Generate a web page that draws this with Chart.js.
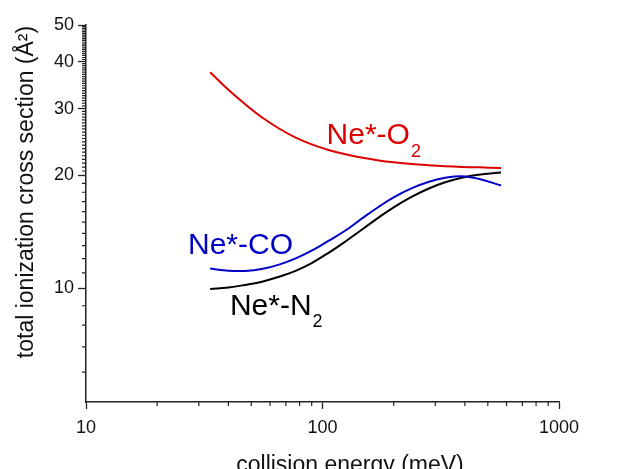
<!DOCTYPE html>
<html>
<head>
<meta charset="utf-8">
<script src="https://cdn.jsdelivr.net/npm/chart.js@4.4.1/dist/chart.umd.min.js"></script>
<style>
  html, body { margin: 0; padding: 0; background: #fff; }
  canvas { display: block; }
</style>
</head>
<body>
<canvas id="chart" width="629" height="469"></canvas>
<script>
// collision energy (meV)
const energies = [33.5, 40, 47, 56, 66, 77, 90, 106, 125, 148, 173, 200, 239, 280, 330, 388, 456, 569];
// total ionization cross section (A^2)
const neO2 = [37.48, 33.66, 30.85, 28.33, 26.49, 25.13, 24.12, 23.31, 22.70, 22.22, 21.87, 21.62, 21.38, 21.23, 21.11, 21.02, 20.96, 20.89];
const neCO = [11.30, 11.15, 11.13, 11.28, 11.59, 12.02, 12.60, 13.38, 14.25, 15.39, 16.48, 17.46, 18.46, 19.17, 19.66, 19.86, 19.55, 18.76];
const neN2 = [9.97, 10.06, 10.22, 10.44, 10.76, 11.14, 11.68, 12.43, 13.33, 14.38, 15.44, 16.42, 17.52, 18.39, 19.13, 19.68, 20.04, 20.32];

const xMajor = [10, 100, 1000];
const yMajor = [10, 20, 30, 40, 50];

const FONT = '"Liberation Sans", Arial, Helvetica, sans-serif';
const AXIS = '#222';

// minor tick marks, same as the original axis
const xMinor = [];
[10, 100].forEach(d => { for (let k = 2; k <= 9; k++) xMinor.push(k * d); });
const yMinor = [6, 7, 8, 9];
for (let v = 11; v <= 19; v++) yMinor.push(v);
for (let v = 20.5; v < 50; v += 0.5) if (v % 10 !== 0) yMinor.push(v);

// curve labels, anchored in data space (left edge / baseline)
const curveLabels = [
  { text: 'Ne*-O', sub: '2', x: 104, y: 24.17, color: '#dd0000' },
  { text: 'Ne*-CO', sub: '', x: 27.0, y: 12.36, color: '#0000c8' },
  { text: 'Ne*-N', sub: '2', x: 40.6, y: 8.53, color: '#000' },
];

const toPoints = (vals) => vals.map((v, i) => ({ x: energies[i], y: v }));

const decor = {
  id: 'decor',
  afterDraw(chart) {
    const { ctx, scales: { x, y } } = chart;
    ctx.save();

    // minor ticks
    ctx.strokeStyle = AXIS;
    ctx.lineWidth = 1.2;
    ctx.beginPath();
    xMinor.forEach(v => {
      const px = x.getPixelForValue(v);
      ctx.moveTo(px, y.bottom);
      ctx.lineTo(px, y.bottom + 4);
    });
    yMinor.forEach(v => {
      const py = y.getPixelForValue(v);
      ctx.moveTo(x.left, py);
      ctx.lineTo(x.left - 4, py);
    });
    ctx.stroke();

    // curve labels
    curveLabels.forEach(l => {
      const px = x.getPixelForValue(l.x);
      const py = y.getPixelForValue(l.y);
      ctx.fillStyle = l.color;
      ctx.textAlign = 'left';
      ctx.textBaseline = 'alphabetic';
      ctx.font = '30px ' + FONT;
      ctx.fillText(l.text, px, py);
      if (l.sub) {
        const w = ctx.measureText(l.text).width;
        ctx.font = '18px ' + FONT;
        ctx.fillText(l.sub, px + w + 1, py + 12.5);
      }
    });

    // axis titles
    ctx.fillStyle = '#111';
    ctx.font = '23px ' + FONT;
    ctx.textAlign = 'center';
    ctx.textBaseline = 'alphabetic';
    ctx.fillText('collision energy (meV)', 350, 472);

    ctx.translate(27, 192);
    ctx.rotate(-Math.PI / 2);
    ctx.textBaseline = 'middle';
    ctx.fillText('total ionization cross section (Å²)', 0, 0);
    ctx.restore();
  }
};

new Chart(document.getElementById('chart').getContext('2d'), {
  type: 'line',
  data: {
    datasets: [
      { label: 'Ne*-O2', data: toPoints(neO2), borderColor: '#dd0000' },
      { label: 'Ne*-CO', data: toPoints(neCO), borderColor: '#0000c8' },
      { label: 'Ne*-N2', data: toPoints(neN2), borderColor: '#000' },
    ].map(ds => Object.assign(ds, {
      borderWidth: 2,
      pointRadius: 0,
      fill: false,
      tension: 0.4,
    })),
  },
  options: {
    responsive: false,
    animation: false,
    devicePixelRatio: 1,
    layout: { padding: { left: 0, top: 25, right: 70, bottom: 0 } },
    plugins: { legend: { display: false }, tooltip: { enabled: false } },
    scales: {
      x: {
        type: 'logarithmic',
        min: 10,
        max: 1000,
        afterBuildTicks: (s) => { s.ticks = xMajor.map(v => ({ value: v })); },
        afterFit: (s) => { s.height = 67; },
        grid: { display: true, drawOnChartArea: false, tickLength: 7, tickColor: AXIS, tickWidth: 1.3 },
        border: { display: true, color: AXIS, width: 1.5 },
        ticks: {
          callback: (v) => String(v),
          autoSkip: false,
          maxRotation: 0,
          padding: 8,
          color: '#111',
          font: { family: FONT, size: 18 },
        },
      },
      y: {
        type: 'logarithmic',
        min: 5,
        max: 50,
        afterBuildTicks: (s) => { s.ticks = yMajor.map(v => ({ value: v })); },
        afterFit: (s) => { s.width = 86; },
        grid: { display: true, drawOnChartArea: false, tickLength: 8, tickColor: AXIS, tickWidth: 1.3 },
        border: { display: true, color: AXIS, width: 1.5 },
        ticks: {
          callback: (v) => String(v),
          autoSkip: false,
          padding: 4,
          color: '#111',
          font: { family: FONT, size: 18 },
        },
      },
    },
  },
  plugins: [decor],
});
</script>
</body>
</html>
